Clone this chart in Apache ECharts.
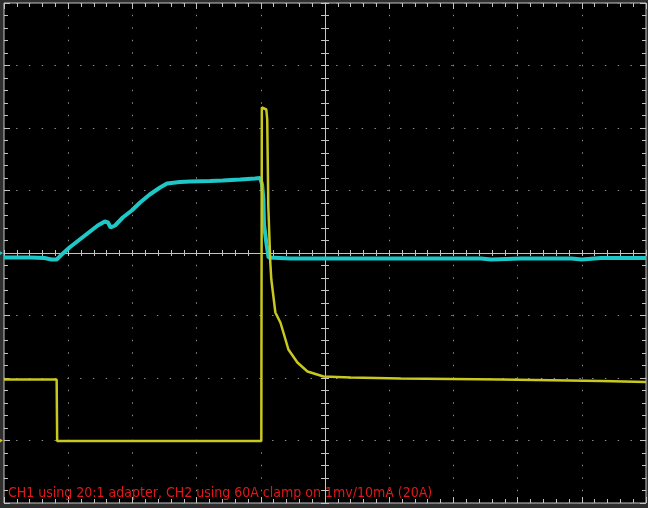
<!DOCTYPE html>
<html>
<head>
<meta charset="utf-8">
<script src="https://cdn.jsdelivr.net/npm/echarts@6/dist/echarts.min.js"></script>
<style>
html,body{margin:0;padding:0;background:#2e2e2e;}
#chart{width:648px;height:508px;}
</style>
</head>
<body>
<div id="chart"></div>
<script>
// Time axis in divisions (centre = 0), vertical in divisions (centre = 0)
const xTicks = [-5, -4, -3, -2, -1, 0, 1, 2, 3, 4, 5];
const yTicks = [-4, -3, -2, -1, 0, 1, 2, 3, 4];

// CH1 (cyan) : [time div, vertical div]
const ch1Time = [-5, -4.6, -4.37, -4.26, -4.18, -4.10, -3.98, -3.82, -3.66, -3.54, -3.43, -3.38, -3.34, -3.27, -3.15, -3.01, -2.88, -2.73, -2.57, -2.46, -2.26, -2.10, -1.79, -1.59, -1.32, -1.09, -1.01, -0.98, -0.96, -0.95, -0.91, -0.88, -0.85, -0.54, 0.09, 1.18, 2.43, 2.59, 3.05, 3.84, 4.0, 4.3, 5];
const ch1Value = [-0.072, -0.072, -0.08, -0.104, -0.104, -0.024, 0.088, 0.216, 0.344, 0.44, 0.504, 0.488, 0.408, 0.44, 0.568, 0.68, 0.808, 0.936, 1.048, 1.112, 1.136, 1.144, 1.152, 1.16, 1.176, 1.192, 1.2, 1.096, 0.856, 0.456, 0.136, -0.072, -0.104, -0.088, -0.088, -0.088, -0.088, -0.104, -0.088, -0.088, -0.104, -0.08, -0.08];

// CH2 (yellow)
const ch2Time = [-5, -4.18, -4.172, -0.992, -0.984, -0.961, -0.914, -0.90, -0.883, -0.852, -0.836, -0.773, -0.695, -0.648, -0.57, -0.43, -0.273, -0.023, 0.398, 1.18, 2.74, 4.3, 5];
const ch2Value = [-2.024, -2.024, -3.008, -3.008, 2.328, 2.344, 2.296, 2.136, 0.744, -0.152, -0.424, -0.952, -1.112, -1.272, -1.544, -1.752, -1.896, -1.976, -1.992, -2.008, -2.024, -2.048, -2.064];

// Ground reference markers
const ch1Ground = 0;
const ch2Ground = -3.0;

const noteText = 'CH1 using 20:1 adapter, CH2 using 60A clamp on 1mv/10mA (20A)';

const pair = (xs, ys) => xs.map((x, i) => [x, ys[i]]);

const tickColor = '#c4c4c4';
const dotColor = '#8a8a8a';

function xAx(opts) {
  return Object.assign({
    type: 'value', min: xTicks[0], max: xTicks[xTicks.length - 1], interval: 1,
    axisLabel: {show: false},
    splitLine: {show: false},
    axisLine: {show: false, onZero: false},
    axisTick: {show: true, inside: true, length: 6, lineStyle: {color: tickColor}},
    minorTick: {show: true, splitNumber: 5, length: 4, lineStyle: {color: tickColor}}
  }, opts);
}
function yAx(opts) {
  return Object.assign({
    type: 'value', min: yTicks[0], max: yTicks[yTicks.length - 1], interval: 1,
    axisLabel: {show: false},
    splitLine: {show: false},
    axisLine: {show: false, onZero: false},
    axisTick: {show: true, inside: true, length: 6, lineStyle: {color: tickColor}},
    minorTick: {show: true, splitNumber: 5, length: 4, lineStyle: {color: tickColor}}
  }, opts);
}

const chart = echarts.init(document.getElementById('chart'), null, {renderer: 'canvas'});
chart.setOption({
  animation: false,
  backgroundColor: '#2e2e2e',
  grid: {left: 4, top: 3, width: 642, height: 500, show: true, backgroundColor: '#000', borderColor: '#c4c4c4', borderWidth: 1},
  xAxis: [
    xAx({position: 'bottom', splitLine: {show: true, lineStyle: {color: dotColor, width: 1, type: [1.5, 11], dashOffset: 0.75}}}),
    xAx({position: 'top'}),
    xAx({position: 'bottom', axisLine: {show: true, onZero: true, onZeroAxisIndex: 0, lineStyle: {color: tickColor, width: 1}},
         axisTick: {show: true, inside: false, length: 3, lineStyle: {color: tickColor}},
         minorTick: {show: true, splitNumber: 5, length: 3, lineStyle: {color: tickColor}}}),
    xAx({position: 'top', axisLine: {show: false, onZero: true, onZeroAxisIndex: 0},
         axisTick: {show: true, inside: false, length: 3, lineStyle: {color: tickColor}},
         minorTick: {show: true, splitNumber: 5, length: 3, lineStyle: {color: tickColor}}})
  ],
  yAxis: [
    yAx({position: 'left', splitLine: {show: true, lineStyle: {color: dotColor, width: 1, type: [1.5, 11.3], dashOffset: 0.75}}}),
    yAx({position: 'right'}),
    yAx({position: 'left', axisLine: {show: true, onZero: true, onZeroAxisIndex: 0, lineStyle: {color: tickColor, width: 1}},
         axisTick: {show: true, inside: false, length: 4, lineStyle: {color: tickColor}},
         minorTick: {show: true, splitNumber: 5, length: 4, lineStyle: {color: tickColor}}}),
    yAx({position: 'right', axisLine: {show: false, onZero: true, onZeroAxisIndex: 0},
         axisTick: {show: true, inside: false, length: 4, lineStyle: {color: tickColor}},
         minorTick: {show: true, splitNumber: 5, length: 4, lineStyle: {color: tickColor}}})
  ],
  series: [
    {
      name: 'CH1', type: 'line', xAxisIndex: 0, yAxisIndex: 0, showSymbol: false, z: 3,
      data: pair(ch1Time, ch1Value),
      lineStyle: {color: '#1ec8c8', width: 4},
      markPoint: {silent: true, symbol: 'triangle', symbolSize: [5, 4], symbolRotate: -90, symbolOffset: [-3, 0],
        itemStyle: {color: '#1ec8c8'}, label: {show: false},
        data: [{coord: [xTicks[0], ch1Ground]}]}
    },
    {
      name: 'CH2', type: 'line', xAxisIndex: 0, yAxisIndex: 0, showSymbol: false, z: 4,
      data: pair(ch2Time, ch2Value),
      lineStyle: {color: '#c8c81e', width: 2.5},
      markPoint: {silent: true, symbol: 'triangle', symbolSize: [5, 4], symbolRotate: -90, symbolOffset: [-3, 0],
        itemStyle: {color: '#c8c81e'}, label: {show: false},
        data: [{coord: [xTicks[0], ch2Ground]}]}
    }
  ],
  graphic: [{
    type: 'text', left: 8, top: 486, z: 10,
    style: {text: noteText, fill: '#e01818', font: '14px "DejaVu Sans Condensed", "Liberation Sans", sans-serif'}
  }]
});
</script>
</body>
</html>
